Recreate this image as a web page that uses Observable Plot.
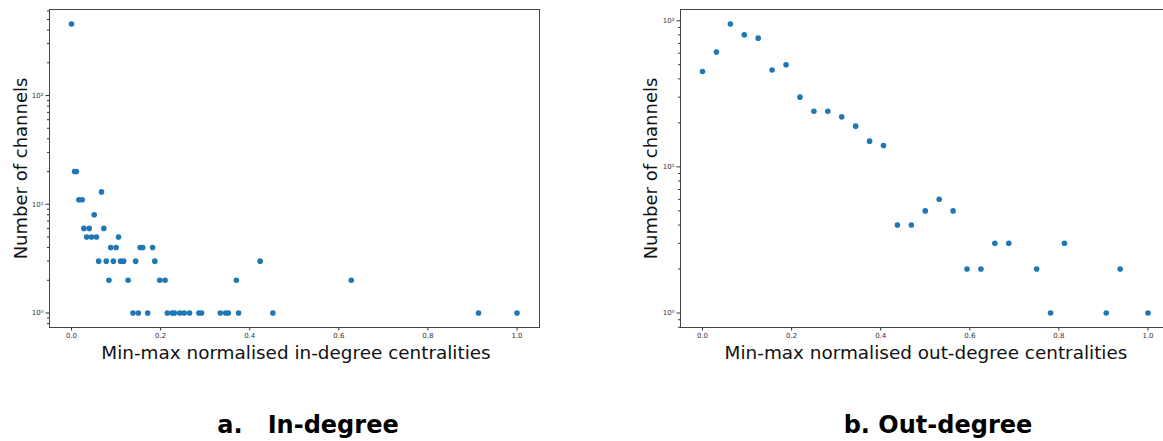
<!DOCTYPE html>
<html><head><meta charset="utf-8">
<script src="https://cdn.jsdelivr.net/npm/d3@7"></script>
<script src="https://cdn.jsdelivr.net/npm/@observablehq/plot@0.6"></script>
<style>
html,body{margin:0;padding:0;background:#fff;overflow:hidden}
#root{position:relative;width:1163px;height:441px;overflow:hidden;background:#fff}
#root > svg{position:absolute;top:0}
</style></head><body><div id="root"></div>
<script>
// ---- data ----
const inDegreeX = [0, 0.007, 0.011, 0.0165, 0.024, 0.0277, 0.0397, 0.0726, 0.034, 0.045, 0.056, 0.1055,
  0.051, 0.0673, 0.088, 0.100, 0.154, 0.160, 0.182,
  0.061, 0.078, 0.094, 0.110, 0.117, 0.144, 0.187, 0.4235,
  0.084, 0.127, 0.198, 0.210, 0.370, 0.628,
  0.138, 0.150, 0.171, 0.215, 0.226, 0.231, 0.243, 0.253, 0.265, 0.286, 0.292, 0.334, 0.346, 0.352, 0.375, 0.452, 0.9136, 1.0];
const inDegreeCount = [455, 20, 20, 11, 11, 6, 6, 6, 5, 5, 5, 5,
  8, 13, 4, 4, 4, 4, 4,
  3, 3, 3, 3, 3, 3, 3, 3,
  2, 2, 2, 2, 2, 2,
  1, 1, 1, 1, 1, 1, 1, 1, 1, 1, 1, 1, 1, 1, 1, 1, 1, 1];
const outDegreeX = [0, 0.03125, 0.0625, 0.09375, 0.125, 0.15625, 0.1875, 0.21875, 0.25, 0.28125, 0.3125, 0.34375,
  0.375, 0.40625, 0.4375, 0.46875, 0.5, 0.53125, 0.5625, 0.59375, 0.625, 0.65625, 0.6875, 0.75, 0.78125,
  0.8125, 0.90625, 0.9375, 1.0];
const outDegreeCount = [45, 61, 95, 80, 76, 46, 50, 30, 24, 24, 22, 19,
  15, 14, 4, 4, 5, 6, 5, 2, 2, 3, 3, 2, 1,
  3, 1, 2, 1];
const xTicks = [0, 0.2, 0.4, 0.6, 0.8, 1.0];
const yMajorTicks = [1, 10, 100];
const yTickLabels = ["10\u2070", "10\u00b9", "10\u00b2"];
const yLabel = "Number of channels";
const xLabels = ["Min-max normalised in-degree centralities", "Min-max normalised out-degree centralities"];
const captions = ["a.\u00a0\u00a0\u00a0In-degree", "b.\u00a0Out-degree"];

function panel(xs, ys, yDomain) {
  const data = xs.map((x, i) => ({x, y: ys[i]}));
  const minor = [];
  for (let e = -1; e <= 3; e++) for (let m = 2; m <= 9; m++) {
    const v = m * Math.pow(10, e);
    if (v >= yDomain[0] && v <= yDomain[1]) minor.push(v);
  }
  return Plot.plot({
    width: 560, height: 345,
    marginLeft: 49, marginRight: 21, marginTop: 9, marginBottom: 18,
    style: {fontFamily: "DejaVu Sans", fontSize: "7px", color: "#333", background: "transparent"},
    x: {domain: [-0.0494, 1.0505]},
    y: {type: "log", domain: yDomain},
    marks: [
      Plot.axisX({ticks: xTicks, tickFormat: d => d.toFixed(1), tickSize: 3.5, tickPadding: 2, label: null}),
      Plot.axisY({ticks: yMajorTicks, tickFormat: d => yTickLabels[yMajorTicks.indexOf(d)], tickSize: 3.5, tickPadding: 2.5, label: null}),
      Plot.axisY({ticks: minor, tickFormat: () => "", tickSize: 2, label: null}),
      Plot.frame({stroke: "#444"}),
      Plot.dot(data, {x: "x", y: "y", r: 2.8, fill: "#1f77b4"})
    ]
  });
}

const root = document.getElementById("root");
const left = panel(inDegreeX, inDegreeCount, [0.736, 618]);
left.style.left = "0px";
root.appendChild(left);
const right = panel(outDegreeX, outDegreeCount, [0.796, 119.4]);
right.style.left = "631px";
root.appendChild(right);

// text overlay
const svg = d3.create("svg").attr("width", 1163).attr("height", 441)
  .style("left", "0px").style("pointer-events", "none");
[27, 657].forEach(x => {
  svg.append("text").attr("transform", `translate(${x},168.5) rotate(-90)`)
    .attr("text-anchor", "middle").attr("font-family", "DejaVu Sans").attr("font-size", 18)
    .attr("fill", "#111").text(yLabel);
});
[[296, xLabels[0]], [926, xLabels[1]]].forEach(([x, t]) => {
  svg.append("text").attr("x", x).attr("y", 358.5).attr("text-anchor", "middle")
    .attr("font-family", "DejaVu Sans").attr("font-size", 18.4).attr("fill", "#111").text(t);
});
[[308, captions[0]], [938, captions[1]]].forEach(([x, t]) => {
  svg.append("text").attr("x", x).attr("y", 433).attr("text-anchor", "middle")
    .attr("font-family", "DejaVu Sans").attr("font-weight", 700).attr("font-size", 24).attr("fill", "#000").text(t);
});
root.appendChild(svg.node());
</script></body></html>
